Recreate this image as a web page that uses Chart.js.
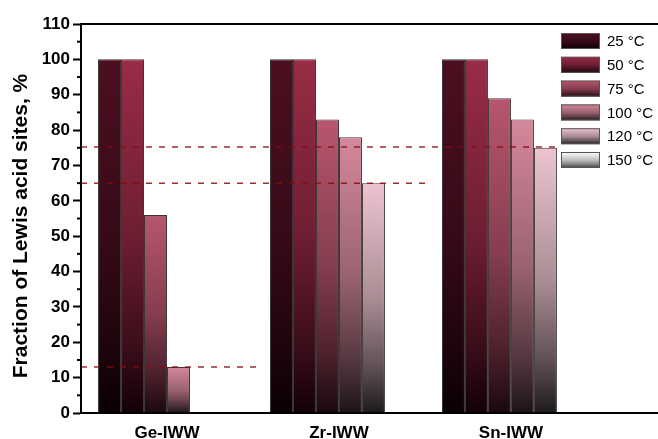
<!DOCTYPE html>
<html>
<head>
<meta charset="utf-8">
<script src="https://cdn.jsdelivr.net/npm/chart.js@4/dist/chart.umd.min.js"></script>
<style>
html,body{margin:0;padding:0;background:#fff;}
canvas{display:block;}
</style>
</head>
<body>
<canvas id="c" width="658" height="439"></canvas>
<script>
// ---- data ----
const categories = ['Ge-IWW', 'Zr-IWW', 'Sn-IWW'];
const seriesLabels = ['25 °C', '50 °C', '75 °C', '100 °C', '120 °C', '150 °C'];
const v25  = [100, 100, 100];
const v50  = [100, 100, 100];
const v75  = [56, 83, 89];
const v100 = [13, 78, 83];
const v120 = [null, 65, 75];
const v150 = [null, null, null];
const yTicks = [0, 10, 20, 30, 40, 50, 60, 70, 80, 90, 100, 110];
const refLevels = [13, 65, 75.2];
const refEnds = [0.52, 1.52, 2.26];
const yTitle = 'Fraction of Lewis acid sites, %';

// ---- styles ----
const topColors = ['#4c0f20', '#992c47', '#b8566d', '#d5889b', '#ecc4cf', '#ffffff'];
const bottomColors = ['#0a0003', '#120006', '#1a080e', '#1c1416', '#1e1a1b', '#3a3a3a'];
const allSeries = [v25, v50, v75, v100, v120, v150];

function hexToRgb(h) {
  const n = parseInt(h.slice(1), 16);
  return [(n >> 16) & 255, (n >> 8) & 255, n & 255];
}
function mix(a, b, t) {
  const A = hexToRgb(a), B = hexToRgb(b);
  const r = A.map((v, k) => Math.round(v + (B[k] - v) * t));
  return 'rgb(' + r.join(',') + ')';
}
function gradientFor(ctx2d, y0, y1, i) {
  const g = ctx2d.createLinearGradient(0, y0, 0, y1);
  g.addColorStop(0, topColors[i]);
  g.addColorStop(0.5, mix(topColors[i], bottomColors[i], 0.32));
  g.addColorStop(0.8, mix(topColors[i], bottomColors[i], 0.68));
  g.addColorStop(1, bottomColors[i]);
  return g;
}

const barSets = allSeries.map((vals, i) => ({
  type: 'bar',
  label: seriesLabels[i],
  data: categories.map((c, k) => ({x: k, y: vals[k]})),
  order: 2,
  borderWidth: 1,
  borderColor: 'rgba(25,20,22,0.85)',
  borderSkipped: 'bottom',
  categoryPercentage: 0.802,
  barPercentage: 1.0,
  backgroundColor: (ctx) => {
    const chart = ctx.chart;
    if (!chart.chartArea || ctx.type !== 'data' || !ctx.parsed) return topColors[i];
    const ys = chart.scales.y;
    const yTop = ys.getPixelForValue(ctx.parsed.y);
    const yBot = ys.getPixelForValue(0);
    if (!isFinite(yTop) || yBot - yTop < 1) return topColors[i];
    return gradientFor(chart.ctx, yTop, yBot, i);
  }
}));

const refSets = refLevels.map((lv, i) => ({
  type: 'line',
  label: 'ref' + i,
  data: [{x: -0.5, y: lv}, {x: refEnds[i], y: lv}],
  order: 1,
  borderColor: 'rgba(135,12,15,0.85)',
  borderWidth: 1.5,
  borderDash: [6, 7],
  pointRadius: 0,
  fill: false,
  clip: false
}));

const decor = {
  id: 'decor',
  afterDraw(chart) {
    const c = chart.ctx;
    const a = chart.chartArea;
    const ys = chart.scales.y;
    c.save();
    // top frame line
    c.strokeStyle = '#000';
    c.lineWidth = 2;
    c.beginPath();
    c.moveTo(a.left - 1, a.top);
    c.lineTo(chart.width, a.top);
    c.stroke();
    // minor ticks
    for (let k = 0; k < yTicks.length - 1; k++) {
      const v = (yTicks[k] + yTicks[k + 1]) / 2;
      const py = ys.getPixelForValue(v);
      c.beginPath();
      c.moveTo(a.left - 4, py);
      c.lineTo(a.left, py);
      c.stroke();
    }
    // y-axis title
    c.save();
    c.translate(21, 226);
    c.rotate(-Math.PI / 2);
    c.font = 'bold 21px "Liberation Sans", Arial, sans-serif';
    c.fillStyle = '#000';
    c.textAlign = 'center';
    c.textBaseline = 'middle';
    c.fillText(yTitle, 0, 0);
    c.restore();
    // legend
    const bx = 561, bw = 39, bh = 16, y0 = 41, dy = 23.8;
    c.font = '15px "Liberation Sans", Arial, sans-serif';
    c.textBaseline = 'middle';
    c.textAlign = 'left';
    seriesLabels.forEach((lab, i) => {
      const cy = y0 + i * dy;
      c.fillStyle = gradientFor(c, cy - bh / 2, cy + bh / 2, i);
      c.fillRect(bx, cy - bh / 2, bw, bh);
      c.lineWidth = 1;
      c.strokeStyle = '#555';
      c.strokeRect(bx + 0.5, cy - bh / 2 + 0.5, bw - 1, bh - 1);
      c.fillStyle = '#000';
      c.fillText(lab, bx + 46, cy + 1);
    });
    c.restore();
  }
};

new Chart(document.getElementById('c'), {
  data: { datasets: [...barSets, ...refSets] },
  options: {
    responsive: false,
    animation: false,
    devicePixelRatio: 1,
    layout: { padding: { top: 24, right: 0, left: 0, bottom: 0 } },
    plugins: { legend: { display: false }, tooltip: { enabled: false } },
    scales: {
      x: {
        type: 'linear',
        offset: false,
        min: -0.5,
        max: 2.855,
        afterBuildTicks: (s) => { s.ticks = categories.map((c, k) => ({value: k})); },
        afterFit: (s) => { s.height = 26; },
        grid: { display: false, drawTicks: false, offset: false },
        border: { display: true, color: '#000', width: 2 },
        ticks: {
          callback: (v) => categories[v] !== undefined ? categories[v] : '',
          autoSkip: false,
          maxRotation: 0,
          padding: 10,
          color: '#000',
          font: { family: '"Liberation Sans", Arial, sans-serif', size: 17, weight: 'bold' }
        }
      },
      y: {
        min: 0,
        max: 110,
        afterBuildTicks: (s) => { s.ticks = yTicks.map(v => ({value: v})); },
        afterFit: (s) => { s.width = 81; },
        grid: { drawOnChartArea: false, drawTicks: true, tickLength: 8, tickWidth: 2, tickColor: '#000' },
        border: { display: true, color: '#000', width: 2 },
        ticks: {
          padding: 3,
          color: '#000',
          font: { family: '"Liberation Sans", Arial, sans-serif', size: 17, weight: 'bold' }
        },
        title: { display: false }
      }
    }
  },
  plugins: [decor]
});
</script>
</body>
</html>
